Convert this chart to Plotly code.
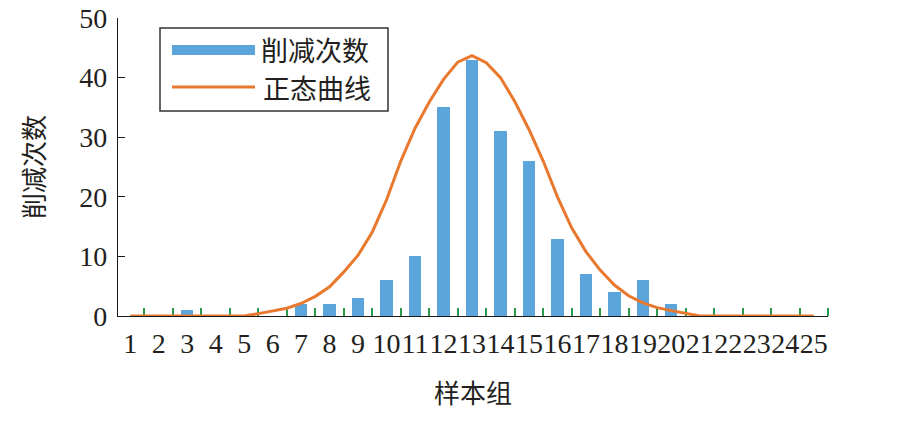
import plotly.graph_objects as go

# Sample groups and reduction counts per group
groups = list(range(1, 26))
group_labels = [str(g) for g in groups]
reduction_counts = [0, 0, 1, 0, 0, 0, 2, 2, 3, 6, 10, 35, 43, 31, 26, 13, 7, 4, 6, 2, 0, 0, 0, 0, 0]

# Fitted normal curve, sampled at half-group steps
curve_x = [1, 2, 3, 4, 5, 5.5, 6, 6.5, 7, 7.5, 8, 8.5, 9, 9.5, 10, 10.5, 11, 11.5, 12, 12.5,
           13, 13.5, 14, 14.5, 15, 15.5, 16, 16.5, 17, 17.5, 18, 18.5, 19, 19.5, 20, 20.5,
           21, 22, 23, 24, 25]
curve_y = [0, 0, 0, 0, 0, 0.4, 0.8, 1.3, 2.1, 3.3, 4.9, 7.4, 10.2, 14.1, 19.5, 26.0, 31.5, 35.9, 39.7, 42.6,
           43.7, 42.5, 40.0, 36.0, 31.3, 26.0, 20.0, 14.8, 10.8, 7.7, 5.2, 3.4, 2.2, 1.4, 0.9, 0.4,
           0, 0, 0, 0, 0]

# Group boundary marks
boundaries = [g + 0.5 for g in groups]

BAR_COLOR = "#5CA4DC"
LINE_COLOR = "#E8782E"
TEXT_COLOR = "#231f20"
CJK = "Noto Sans CJK SC"
SERIF = "Liberation Serif"

W, H = 922, 421
ML, MR, MT, MB = 118, 94, 18, 105
PW, PH = W - ML - MR, H - MT - MB


def px(x):
    return (x - ML) / PW


def py(y):
    return (H - MB - y) / PH


fig = go.Figure()
fig.add_trace(go.Bar(
    x=groups, y=reduction_counts, width=0.43,
    marker=dict(color=BAR_COLOR, line=dict(width=0)),
    name="削减次数", showlegend=False,
))
fig.add_trace(go.Scatter(
    x=curve_x, y=curve_y, mode="lines",
    line=dict(color=LINE_COLOR, width=3),
    name="正态曲线", showlegend=False,
))

# Legend box drawn by hand so the keys are long line segments
shapes = [
    dict(type="rect", xref="paper", yref="paper",
         x0=px(160), x1=px(388), y0=py(111), y1=py(28),
         line=dict(color="#333333", width=1.5), fillcolor="white", layer="above"),
    dict(type="line", xref="paper", yref="paper",
         x0=px(172), x1=px(255), y0=py(50), y1=py(50),
         line=dict(color=BAR_COLOR, width=10), layer="above"),
    dict(type="line", xref="paper", yref="paper",
         x0=px(172), x1=px(255), y0=py(87), y1=py(87),
         line=dict(color=LINE_COLOR, width=3), layer="above"),
]
annotations = [
    dict(text="削减次数", xref="paper", yref="paper", x=px(259), y=py(49),
         xanchor="left", yanchor="middle", showarrow=False,
         font=dict(family=CJK, size=27, color=TEXT_COLOR)),
    dict(text="正态曲线", xref="paper", yref="paper", x=px(261), y=py(87.5),
         xanchor="left", yanchor="middle", showarrow=False,
         font=dict(family=CJK, size=27, color=TEXT_COLOR)),
]

fig.update_layout(
    width=W, height=H, autosize=False,
    margin=dict(l=ML, r=MR, t=MT, b=MB, pad=0),
    paper_bgcolor="white", plot_bgcolor="white",
    showlegend=False, bargap=0,
    shapes=shapes, annotations=annotations,
    font=dict(family=SERIF, color=TEXT_COLOR),
)
fig.update_xaxes(
    range=[0.57, 25.5], tickmode="array", tickvals=groups, ticktext=group_labels,
    ticks="", tickangle=0, showgrid=False, zeroline=False,
    showline=True, linecolor="#1a1a1a", linewidth=1.3, layer="below traces",
    tickfont=dict(family=SERIF, size=28, color=TEXT_COLOR),
    ticklabelstandoff=2,
    minor=dict(tickmode="array", tickvals=boundaries, ticks="inside", ticklen=8,
               tickwidth=1.5, tickcolor="#2a9a4a", showgrid=False),
    title=dict(text="样本组", font=dict(family=CJK, size=26, color=TEXT_COLOR), standoff=27),
    automargin=False, fixedrange=True,
)
fig.update_yaxes(
    range=[0, 50], tickmode="array", tickvals=[0, 10, 20, 30, 40, 50],
    ticks="inside", ticklen=7, tickwidth=1.3, tickcolor="#1a1a1a",
    showgrid=False, zeroline=False,
    showline=True, linecolor="#1a1a1a", linewidth=1.3,
    tickfont=dict(family=SERIF, size=28, color=TEXT_COLOR),
    ticklabelstandoff=4,
    title=dict(text="削减次数", font=dict(family=CJK, size=26, color=TEXT_COLOR), standoff=27),
    automargin=False, fixedrange=True,
)

fig.write_html("out.html")
